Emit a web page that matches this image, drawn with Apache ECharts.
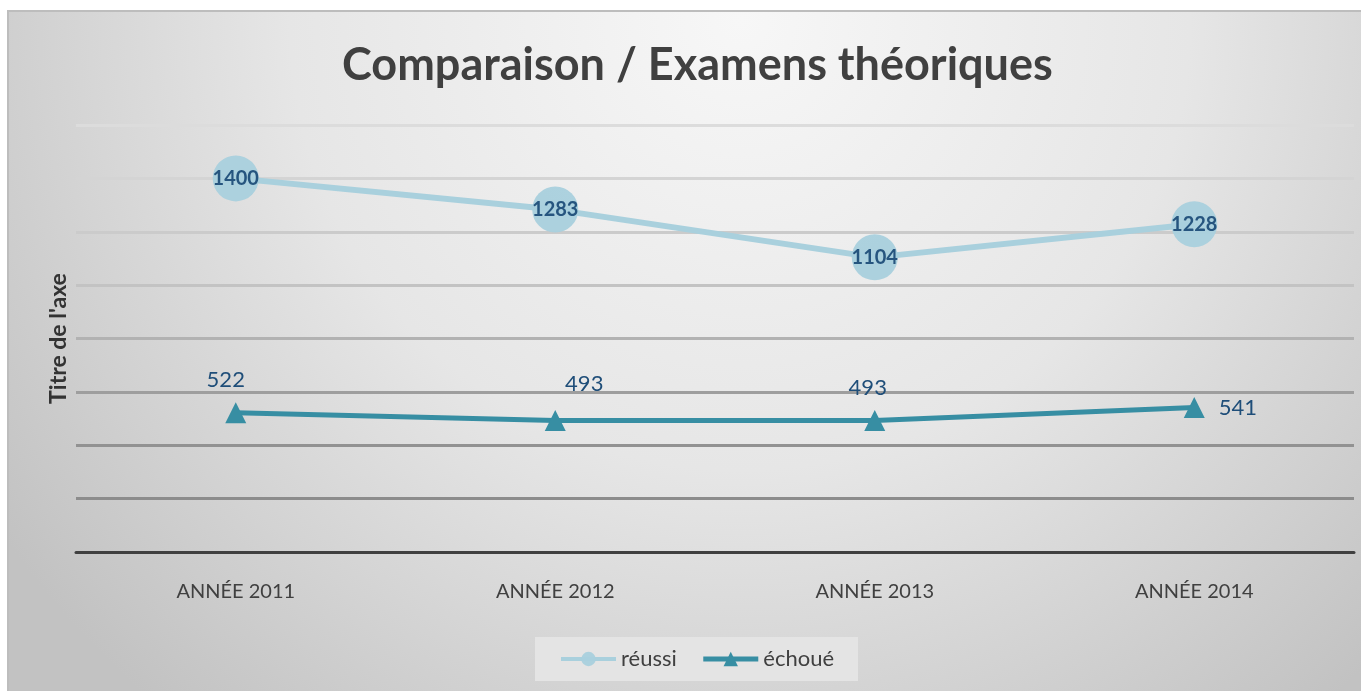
<!DOCTYPE html>
<html><head><meta charset="utf-8">
<script src="https://cdn.jsdelivr.net/npm/echarts@6/dist/echarts.min.js"></script>
<style>html,body{margin:0;padding:0;background:#fff;}#c{width:1361px;height:691px;}</style>
</head><body><div id="c"></div>
<script>
const categories = ['ANNÉE 2011', 'ANNÉE 2012', 'ANNÉE 2013', 'ANNÉE 2014'];
const reussi = [1400, 1283, 1104, 1228];
const echoue = [522, 493, 493, 541];
const seriesNames = ['réussi', 'échoué'];
const titleText = 'Comparaison / Examens théoriques';
const yAxisName = "Titre de l'axe";

const FONT = 'Lato';
const chart = echarts.init(document.getElementById('c'));
const echLabelPos = [
  {position: 'top', distance: 11, offset: [-10, 0]},
  {position: 'top', distance: 15, offset: [29, 0]},
  {position: 'top', distance: 11, offset: [-7, 0]},
  {position: 'right', distance: 14, offset: [0, 0]}
];
chart.setOption({
  backgroundColor: '#ffffff',
  graphic: [{
    type: 'rect', z: -10, silent: true,
    shape: {x: 8, y: 11, width: 1360, height: 690},
    style: {
      fill: new echarts.graphic.RadialGradient(740, 20, 900, [
        {offset: 0, color: '#f7f7f7'},
        {offset: 0.5, color: '#e6e6e6'},
        {offset: 1, color: '#c2c2c2'}
      ], true),
      stroke: '#bdbdbd', lineWidth: 2
    }
  }],
  title: {
    text: titleText, left: 337, top: 38,
    textStyle: {fontFamily: FONT, fontSize: 45, fontWeight: 'bold', color: '#404040'}
  },
  legend: {
    bottom: 10, left: 535,
    data: [
      {name: seriesNames[0], lineStyle: {width: 4}},
      {name: seriesNames[1], lineStyle: {width: 5}}
    ],
    itemWidth: 55, itemHeight: 18, itemGap: 24,
    backgroundColor: '#e4e4e4', padding: [11, 24, 11, 24],
    textStyle: {fontFamily: FONT, fontSize: 22, color: '#404040'}
  },
  grid: {left: 76, right: 7, top: 125, bottom: 139},
  xAxis: {
    type: 'category', data: categories, boundaryGap: true,
    axisLine: {lineStyle: {color: '#404040', width: 3}},
    axisTick: {show: false},
    axisLabel: {fontFamily: FONT, fontSize: 20, color: '#404040', margin: 30}
  },
  yAxis: {
    type: 'value', min: 0, max: 1600, interval: 200,
    name: yAxisName, nameLocation: 'middle', nameGap: 6, nameRotate: 90,
    nameTextStyle: {fontFamily: FONT, fontSize: 23, fontWeight: 'bold', color: '#333333'},
    axisLabel: {show: false},
    axisLine: {show: false}, axisTick: {show: false},
    splitLine: {lineStyle: {width: 3, color: ['#404040', '#8c8c8c', '#929292', '#9e9e9e', '#b2b2b2', '#c3c3c3', '#cbcbcb', '#d4d4d4', '#dcdcdc']}}
  },
  series: [{
    name: seriesNames[0], type: 'line', data: reussi,
    symbol: 'circle', symbolSize: 46,
    itemStyle: {color: '#a9d0dd', opacity: 0.95},
    lineStyle: {color: '#a9d0dd', width: 6},
    label: {show: true, position: 'inside', fontFamily: FONT, fontSize: 20, fontWeight: 'bold', color: '#1f4e79'},
    z: 3
  }, {
    name: seriesNames[1], type: 'line', data: echoue.map((v, i) => ({value: v, label: echLabelPos[i]})),
    symbol: 'triangle', symbolSize: 21,
    itemStyle: {color: '#378ea3'},
    lineStyle: {color: '#378ea3', width: 5},
    label: {show: true, fontFamily: FONT, fontSize: 22, color: '#1f4e79'},
    z: 4
  }]
});
</script></body></html>
